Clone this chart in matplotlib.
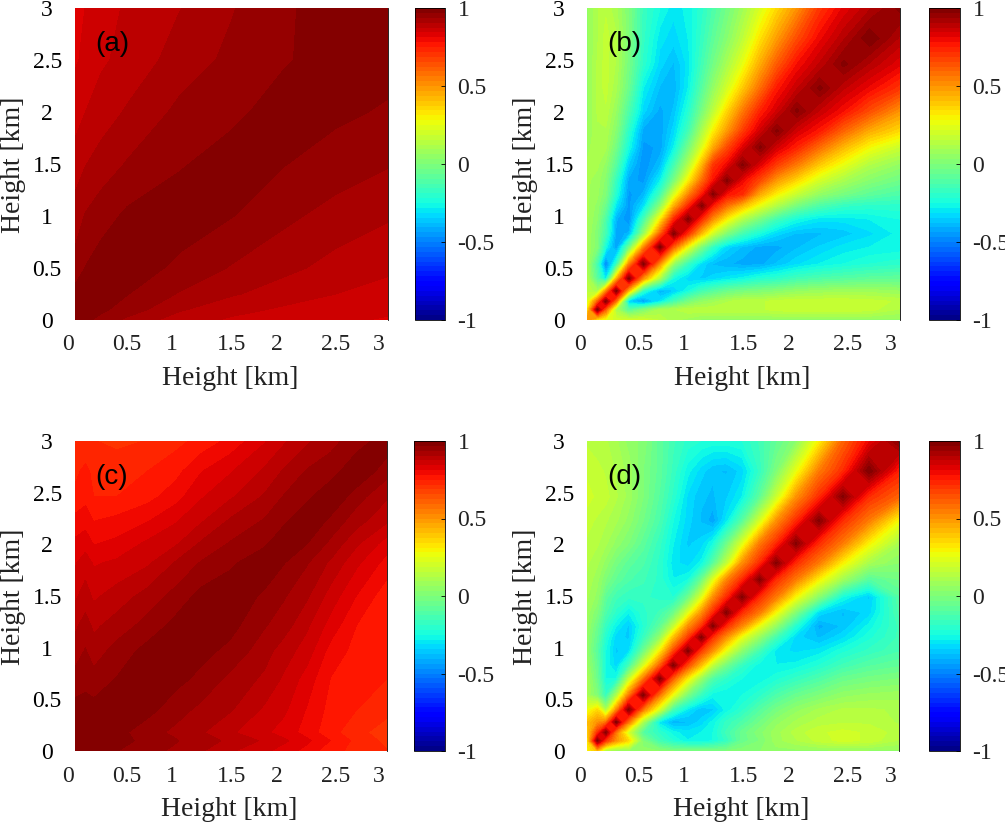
"""
Height-height correlation maps, four panels sharing one jet colour scale.
"""
import numpy as np
import matplotlib
matplotlib.use('Agg')
import matplotlib.pyplot as plt

# Height grids [km], one per panel group
height_a = [0, .10, .25, .50, 1.0, 1.5, 2.0, 2.5, 3.0]
height_c = [0, .10, .18, .40, .70, .97, 1.21, 1.49, 1.82, 2.01, 2.23, 2.46, 2.71, 3.0]
height_bd = [0, .10, .18, .28, .40, .54, .70, .83, .97, 1.10, 1.21, 1.34, 1.49, 1.66,
             1.82, 2.01, 2.23, 2.46, 2.71, 3.0]

# Correlation values, rows run from the lowest height upwards
corr_a = [
    [.98, .975, .96, .93, .89, .87, .855, .85, .84],
    [.985, .98, .975, .955, .91, .885, .87, .86, .85],
    [.98, .985, .985, .97, .935, .91, .89, .875, .865],
    [.95, .97, .985, .99, .96, .935, .915, .895, .88],
    [.92, .94, .955, .975, .99, .97, .945, .925, .91],
    [.89, .905, .92, .94, .965, .985, .97, .955, .94],
    [.86, .875, .89, .91, .945, .96, .985, .975, .965],
    [.84, .85, .87, .885, .92, .945, .965, .985, .98],
    [.82, .845, .86, .88, .905, .935, .965, .98, .99],
]

corr_b = [
    [.5, .3, .25, .2, .2, .2, .15, .1, .08, .05, .05, .05, .05, .05, .05, .05, .05, .05, .05, .05],
    [.3, .98, .6, .1, -.1, 0, .1, .12, .15, .15, .15, .15, .15, .15, .17, .18, .18, .18, .17, .12],
    [.2, .6, .98, .55, -.35, -.45, -.3, -.15, -.02, .05, .08, .12, .15, .15, .17, .18, .18, .18, .17, .15],
    [.15, .1, .5, .98, .4, -.2, -.4, -.35, -.25, -.15, -.1, -.05, -.02, 0, .02, .05, .07, .08, .08, .06],
    [.12, -.1, -.3, .4, .98, .5, .1, -.25, -.33, -.35, -.33, -.3, -.27, -.22, -.2, -.15, -.12, -.1, -.08, -.07],
    [.1, -.15, -.5, -.2, .5, .98, .5, .05, -.18, -.32, -.38, -.4, -.42, -.42, -.37, -.32, -.28, -.25, -.22, -.2],
    [.1, 0, -.25, -.45, -.05, .5, .98, .6, .25, -.02, -.2, -.33, -.38, -.42, -.42, -.38, -.34, -.3, -.28, -.27],
    [.1, 0, -.15, -.42, -.4, .05, .6, .98, .7, .4, .18, 0, -.15, -.25, -.33, -.38, -.38, -.36, -.32, -.27],
    [.1, .03, -.12, -.4, -.47, -.15, .3, .72, .98, .72, .5, .3, .12, -.02, -.15, -.25, -.3, -.3, -.28, -.25],
    [.1, .05, -.05, -.3, -.45, -.32, .02, .42, .72, .98, .75, .58, .42, .25, .12, -.02, -.12, -.18, -.2, -.2],
    [.1, .07, 0, -.22, -.45, -.4, -.15, .2, .52, .75, .98, .78, .72, .45, .3, .17, .05, -.02, -.08, -.12],
    [.1, .08, .02, -.18, -.42, -.45, -.28, -.02, .3, .58, .78, .98, .8, .65, .48, .35, .2, .1, .02, -.04],
    [.1, .1, .05, -.1, -.35, -.47, -.38, -.15, .12, .42, .7, .8, .98, .82, .68, .55, .38, .25, .12, .05],
    [.08, .12, .1, -.03, -.25, -.45, -.43, -.28, -.03, .22, .45, .65, .82, .98, .85, .74, .58, .42, .28, .18],
    [.06, .12, .12, .02, -.2, -.42, -.43, -.33, -.15, .1, .3, .48, .68, .85, .98, .85, .76, .6, .45, .35],
    [.05, .13, .15, .06, -.12, -.33, -.42, -.37, -.22, -.02, .15, .35, .55, .74, .85, .98, .87, .78, .65, .5],
    [.05, .13, .17, .1, -.05, -.28, -.38, -.4, -.28, -.1, .05, .2, .38, .58, .76, .87, .98, .88, .8, .7],
    [.05, .13, .17, .12, -.02, -.2, -.33, -.38, -.3, -.15, -.03, .1, .25, .45, .62, .78, .88, .98, .9, .82],
    [.05, .12, .17, .13, 0, -.18, -.3, -.33, -.28, -.18, -.08, .02, .15, .33, .48, .65, .8, .9, 1.0, .9],
    [.05, .12, .15, .1, 0, -.17, -.25, -.3, -.27, -.2, -.12, -.03, .08, .22, .35, .5, .7, .82, .9, .98],
]

corr_c = [
    [.99, .99, .98, .97, .95, .93, .91, .88, .85, .83, .8, .76, .74, .72],
    [.99, .99, .99, .98, .96, .94, .92, .9, .87, .85, .82, .78, .74, .71],
    [.98, .99, .99, .98, .95, .93, .91, .88, .85, .83, .8, .76, .73, .7],
    [.98, .98, .98, .99, .98, .95, .93, .91, .87, .85, .81, .77, .75, .73],
    [.95, .96, .95, .97, .99, .98, .96, .93, .9, .87, .83, .78, .76, .75],
    [.92, .94, .92, .95, .98, 1.0, .98, .96, .92, .89, .86, .8, .77, .75],
    [.9, .92, .9, .92, .95, .98, 1.0, .98, .94, .92, .88, .83, .78, .75],
    [.87, .89, .87, .89, .92, .95, .98, 1.0, .96, .94, .91, .86, .81, .76],
    [.84, .86, .84, .85, .87, .91, .94, .96, 1.0, .97, .94, .9, .85, .8],
    [.82, .83, .81, .82, .85, .87, .91, .94, .96, 1.0, .97, .93, .88, .83],
    [.79, .8, .78, .79, .81, .84, .87, .91, .94, .96, 1.0, .96, .92, .88],
    [.76, .77, .75, .75, .77, .8, .84, .87, .91, .94, .96, 1.0, .95, .91],
    [.74, .76, .74, .74, .75, .77, .81, .84, .88, .91, .94, .95, 1.0, .95],
    [.73, .72, .72, .71, .72, .74, .76, .79, .84, .87, .9, .93, .95, .99],
]

corr_d = [
    [.3, .4, .1, .05, .05, .05, .03, 0, 0, 0, 0, 0, .02, .03, .05, .05, .05, .05, .05, .05],
    [.3, .98, .7, .5, .35, 0, -.15, -.22, -.28, -.28, -.25, -.18, -.05, 0, .08, .12, .17, .2, .18, .12],
    [.35, .7, .98, .55, .2, -.1, -.2, -.27, -.3, -.28, -.25, -.15, -.05, .02, .08, .14, .18, .2, .18, .14],
    [.4, .5, .55, .98, .55, .1, -.3, -.4, -.38, -.33, -.27, -.18, -.12, -.03, .05, .1, .14, .15, .15, .12],
    [.25, .35, .1, .5, .98, .55, .2, -.15, -.3, -.37, -.35, -.27, -.2, -.1, -.02, .05, .1, .13, .13, .12],
    [.1, 0, -.18, .1, .55, .98, .55, .25, -.02, -.18, -.27, -.28, -.25, -.2, -.12, -.05, 0, .05, .07, .08],
    [.1, -.05, -.25, -.25, .15, .55, .98, .6, .3, .05, -.12, -.2, -.25, -.27, -.23, -.18, -.12, -.05, -.02, 0],
    [.07, -.07, -.25, -.33, -.15, .2, .6, .98, .65, .4, .15, -.03, -.18, -.27, -.28, -.27, -.22, -.15, -.1, -.07],
    [.05, -.1, -.25, -.35, -.32, -.05, .3, .65, .98, .68, .5, .25, .03, -.15, -.3, -.32, -.3, -.23, -.18, -.13],
    [.05, -.07, -.22, -.33, -.35, -.18, .05, .4, .68, .98, .7, .5, .25, .05, -.15, -.33, -.38, -.32, -.23, -.15],
    [.07, -.05, -.18, -.28, -.35, -.22, -.08, .15, .5, .7, .98, .72, .52, .25, .05, -.22, -.42, -.37, -.27, -.15],
    [.08, 0, -.12, -.2, -.28, -.2, -.15, -.05, .22, .5, .72, .98, .72, .55, .28, 0, -.32, -.38, -.33, -.12],
    [.1, .05, -.08, -.15, -.18, -.18, -.2, -.22, -.05, .22, .5, .72, .98, .72, .55, .28, .02, -.25, -.35, -.1],
    [.12, .07, 0, -.07, -.12, -.15, -.2, -.28, -.25, -.05, .22, .52, .72, .98, .72, .55, .3, .08, -.1, -.03],
    [.13, .1, .05, -.02, -.08, -.12, -.2, -.3, -.33, -.27, -.1, .15, .5, .72, .98, .72, .55, .3, .1, .03],
    [.15, .13, .1, .05, 0, -.08, -.18, -.28, -.35, -.33, -.25, -.05, .22, .55, .72, .98, .72, .55, .3, .1],
    [.17, .15, .13, .1, .05, -.03, -.13, -.25, -.33, -.38, -.43, -.3, -.1, .2, .5, .72, .98, .72, .55, .28],
    [.2, .18, .17, .13, .08, 0, -.1, -.2, -.32, -.37, -.38, -.35, -.28, -.08, .18, .5, .72, .98, .72, .6],
    [.18, .17, .15, .12, .08, 0, -.08, -.17, -.27, -.33, -.37, -.38, -.33, -.18, 0, .25, .55, .72, 1.0, .75],
    [.15, .13, .13, .1, .05, .02, -.08, -.15, -.2, -.22, -.23, -.23, -.22, -.15, -.07, .03, .3, .6, .8, .98],
]

tick_values = [0, 0.5, 1, 1.5, 2, 2.5, 3]
tick_labels = ['0', '0.5', '1', '1.5', '2', '2.5', '3']
cbar_values = [-1, -0.5, 0, 0.5, 1]
cbar_labels = ['-1', '-0.5', '0', '0.5', '1']

# The x tick labels sit off the true scale in the original, offsets in pixels from axes left
x_label_px = [-7, 52, 97, 157, 202, 261, 304]

W, H = 1005, 827
SERIF = 'Liberation Serif'
levels = np.linspace(-1, 1, 65)

fig = plt.figure(figsize=(W / 100, H / 100), dpi=100)


def box(x0, y0, x1, y1):
    # Pixel box (y from the top) to figure fractions
    return [x0 / W, 1 - y1 / H, (x1 - x0) / W, (y1 - y0) / H]


def panel(hgt, corr, tag, ax_box, cax_box):
    ax = fig.add_axes(box(*ax_box))
    cs = ax.contourf(hgt, hgt, np.array(corr), levels=levels, cmap='jet', vmin=-1, vmax=1)
    ax.set_xlim(0, 3)
    ax.set_ylim(0, 3)

    # Only the right edge shows a line
    for side in ['top', 'left', 'bottom']:
        ax.spines[side].set_visible(False)
    ax.spines['right'].set_linewidth(0.6)

    # y ticks are centred in their own column
    ax.set_yticks(tick_values)
    ax.set_yticklabels(tick_labels, family=SERIF, fontsize=17, ha='center')
    ax.tick_params(axis='y', length=0, pad=20)

    # x tick labels go in by hand because of the offset
    ax.set_xticks([])
    width = ax_box[2] - ax_box[0]
    for off, lab in zip(x_label_px, tick_labels):
        ax.text(off / width, -25 / (ax_box[3] - ax_box[1]), lab, transform=ax.transAxes,
                family=SERIF, fontsize=17, ha='center', va='center', color='#222222')

    ax.set_xlabel('Height [km]', family=SERIF, fontsize=20, va='center', color='#222222')
    ax.xaxis.set_label_coords(0.495, -0.189)
    ax.set_ylabel('Height [km]', family=SERIF, fontsize=20, va='center', color='#222222')
    ax.yaxis.set_label_coords(-0.198, 0.497)

    ax.text(0.065, 0.885, tag, transform=ax.transAxes, family='Liberation Sans',
            fontsize=20, ha='left', va='center', color='black')

    # Colour bar
    cax = fig.add_axes(box(*cax_box))
    cbar = fig.colorbar(cs, cax=cax, ticks=cbar_values)
    cbar.ax.set_yticklabels(cbar_labels, family=SERIF, fontsize=17, color='#222222')
    cbar.ax.tick_params(length=3, width=0.6, direction='in', pad=9)
    cbar.outline.set_linewidth(0.6)
    return ax


panel(height_a, corr_a, '(a)', (75, 8, 388, 320), (415, 8, 445, 320))
panel(height_bd, corr_b, '(b)', (587, 8, 900, 320), (929, 8, 960, 320))
panel(height_c, corr_c, '(c)', (75, 441, 387, 751), (414, 441, 445, 751))
panel(height_bd, corr_d, '(d)', (587, 441, 899, 751), (929, 441, 960, 751))

fig.savefig('out.png', dpi=100)
